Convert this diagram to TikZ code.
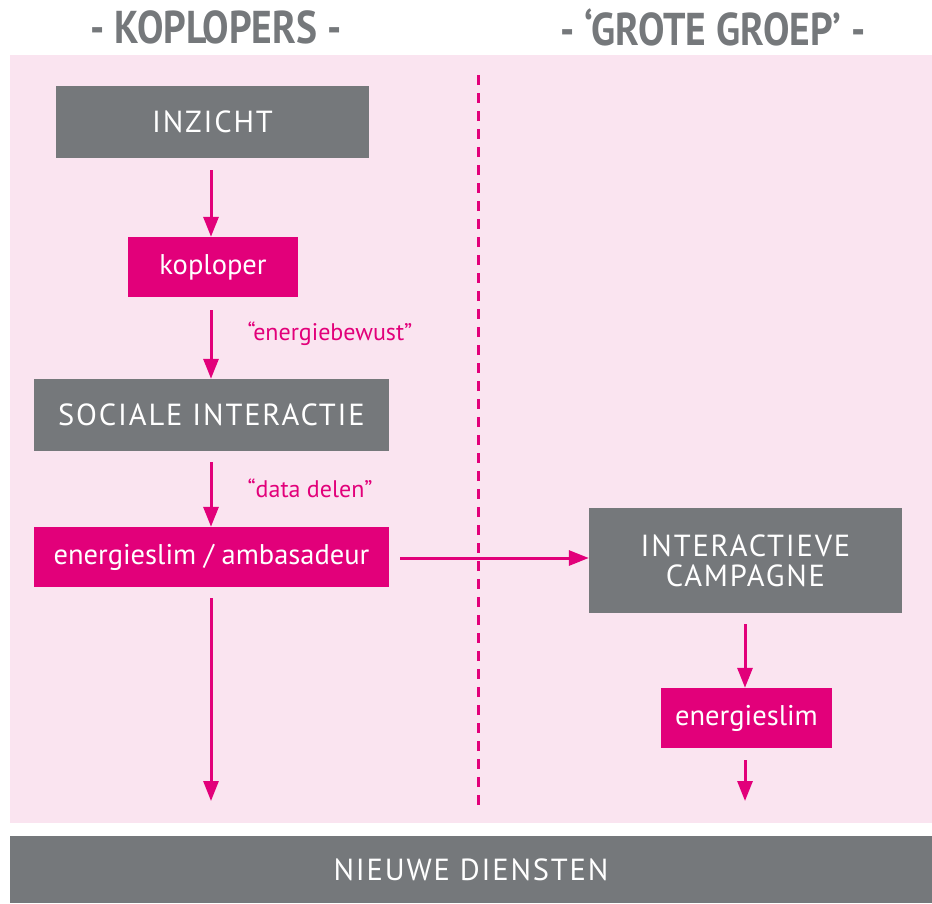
\documentclass[tikz,border=0pt]{standalone}
\usepackage{fontspec}
\setmainfont{PT Sans}
\newfontfamily\capsfont[LetterSpace=6]{PT Sans}
\usetikzlibrary{arrows.meta}
\definecolor{mag}{HTML}{E2007A}
\definecolor{gr}{HTML}{75787B}
\definecolor{bgpink}{HTML}{FAE4F0}
\tikzset{
  graybox/.style={fill=gr, text=white, inner sep=0pt, font=\capsfont\fontsize{30.5}{32}\selectfont, align=center},
  magbox/.style={fill=mag, text=white, inner sep=0pt, font=\fontsize{28.5}{30}\selectfont},
  flow/.style={draw=mag, line width=3pt, -{Triangle[length=20pt,width=15pt]}},
  quote/.style={text=mag, font=\fontsize{24}{26}\selectfont, anchor=west},
  header/.style={text=gr, font=\bfseries\fontsize{46}{48}\selectfont},
}
\begin{document}
\begin{tikzpicture}[x=1pt,y=-1pt]
\useasboundingbox (0,0) rectangle (932,903);
\fill[bgpink] (10,55) rectangle (932,823);
% headers
\node[header] (hk) at (216,27) {\scalebox{0.86}[1]{- KOPLOPERS -}};
\node[header] (hg) at (713,27) {\scalebox{0.86}[1]{- ‘GROTE GROEP’ -}};
% dashed divider
\coordinate (dtop) at (478,75);
\coordinate (dbot) at (478,805);
\draw[mag, line width=3pt, dash pattern=on 10pt off 8pt] (dtop) -- (dbot);
% left column
\node[graybox, minimum width=313pt, minimum height=72pt] (inzicht) at (212.5,122) {INZICHT};
\node[magbox, minimum width=170pt, minimum height=60pt] (koploper) at (213,267) {koploper};
\node[graybox, minimum width=355pt, minimum height=72pt] (sociale) at (211.5,415) {SOCIALE INTERACTIE};
\node[magbox, minimum width=355pt, minimum height=60pt] (ambas) at (211.5,557) {energieslim / ambasadeur};
% right column
\node[graybox, minimum width=313pt, minimum height=105pt, text width=300pt] (campagne) at (745.5,560.5) {INTERACTIEVE\\[-2pt]CAMPAGNE};
\node[magbox, minimum width=171pt, minimum height=60pt] (eslim) at (746.5,718) {energieslim};
% bottom bar
\node[graybox, minimum width=922pt, minimum height=67pt] (nieuw) at (471,869.5) {NIEUWE DIENSTEN};
% labels
\node[quote] (l1) at (244,334) {“energiebewust”};
\node[quote] (l2) at (244,488) {“data delen”};
% arrows
\coordinate (a1) at (211,170);
\coordinate (a2) at (211,310);
\coordinate (a3) at (211,462);
\coordinate (a4) at (211,598);
\coordinate (e4) at (211,801);
\coordinate (h1) at (400,558);
\coordinate (r1) at (745,624);
\coordinate (r2) at (745,760);
\coordinate (e6) at (745,801);
\draw[flow] (a1) -- (koploper.north -| a1);
\draw[flow] (a2) -- (sociale.north -| a2);
\draw[flow] (a3) -- (ambas.north -| a3);
\draw[flow] (a4) -- (e4);
\draw[flow] (h1) -- (campagne.west |- h1);
\draw[flow] (r1) -- (eslim.north -| r1);
\draw[flow] (r2) -- (e6);
\end{tikzpicture}
\end{document}
